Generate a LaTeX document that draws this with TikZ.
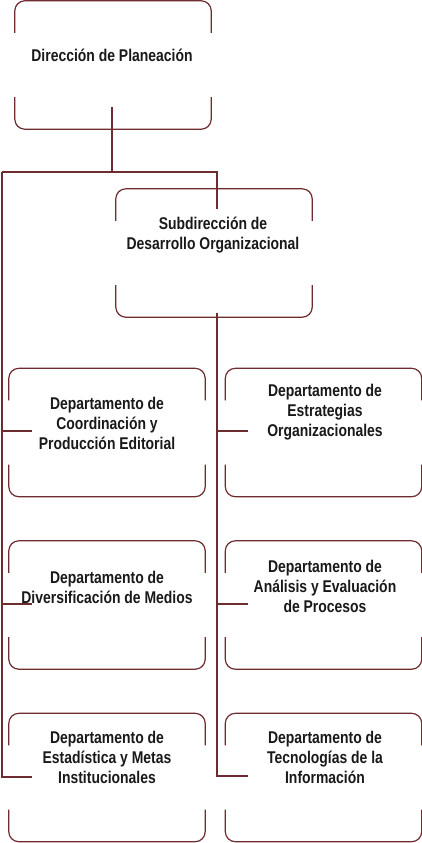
\documentclass[tikz,border=0pt]{standalone}
\usepackage{fontspec}
\setmainfont{Liberation Sans}[FakeStretch=0.82]
\usetikzlibrary{calc}
\definecolor{maroon}{HTML}{6E2B30}
\tikzset{
  obox/.style={rectangle, minimum width=196pt, minimum height=128pt, inner sep=0pt, draw=none},
  boxline/.style={draw=maroon, line width=1.2pt, rounded corners=10pt},
  conn/.style={draw=maroon, line width=1.8pt},
  lbl/.style={align=center, font=\fontsize{17}{20}\selectfont\bfseries, text=black!90, inner sep=0pt}
}
\newcommand\orgbox[2]{%
  \node[obox] (#1) at (#2) {};
  \draw[boxline] ([yshift=-32pt]#1.north west) -- (#1.north west) -- (#1.north east) -- ([yshift=-32pt]#1.north east);
  \draw[boxline] ([yshift=32pt]#1.south west) -- (#1.south west) -- (#1.south east) -- ([yshift=32pt]#1.south east);
}
\begin{document}
\begin{tikzpicture}[x=1pt,y=-1pt]
\useasboundingbox (0,0) rectangle (422,843);
% boxes
\orgbox{dp}{113,65}
\orgbox{sdo}{214,253}
\orgbox{l1}{107,432.5}
\orgbox{r1}{323.5,432.5}
\orgbox{l2}{107,605}
\orgbox{r2}{323.5,605}
\orgbox{l3}{107,777.5}
\orgbox{r3}{323.5,777.5}
% labels
\node[lbl] (tdp) at (112,55) {Dirección de Planeación};
\node[lbl] (tsdo) at (213,235) {Subdirección de\\Desarrollo Organizacional};
\node[lbl] (tl1) at (107,423) {Departamento de\\Coordinación y\\Producción Editorial};
\node[lbl] (tr1) at (325,412) {Departamento de\\Estrategias\\Organizacionales};
\node[lbl] (tl2) at (107,587.5) {Departamento de\\Diversificación de Medios};
\node[lbl] (tr2) at (325,586) {Departamento de\\Análisis y Evaluación\\de Procesos};
\node[lbl] (tl3) at (107,757) {Departamento de\\Estadística y Metas\\Institucionales};
\node[lbl] (tr3) at (325,757) {Departamento de\\Tecnologías de la\\Información};
% connector coordinates
\coordinate (dpstub) at (112,107);
\coordinate (busM) at (112,172);
\coordinate (busL) at (2,172);
\coordinate (busR) at (217,172);
\coordinate (sdoin) at (217,209);
\coordinate (sdostub) at (217,313);
\coordinate (lc1) at (2,431);
\coordinate (lc2) at (2,604);
\coordinate (lc3) at (2,777);
\coordinate (le1) at (32,431);
\coordinate (le2) at (32,604);
\coordinate (le3) at (32,777);
\coordinate (rc1) at (217,431);
\coordinate (rc2) at (217,604);
\coordinate (rc3) at (217,776);
\coordinate (re1) at (248,431);
\coordinate (re2) at (248,604);
\coordinate (re3) at (248,776);
% connectors
\draw[conn] (dpstub) -- (busM);
\draw[conn] (busL) -- (busR) -- (sdoin);
\draw[conn] (busL) -- (lc3) -- (le3);
\draw[conn] (lc1) -- (le1);
\draw[conn] (lc2) -- (le2);
\draw[conn] (sdostub) -- (rc3) -- (re3);
\draw[conn] (rc1) -- (re1);
\draw[conn] (rc2) -- (re2);
\end{tikzpicture}
\end{document}
